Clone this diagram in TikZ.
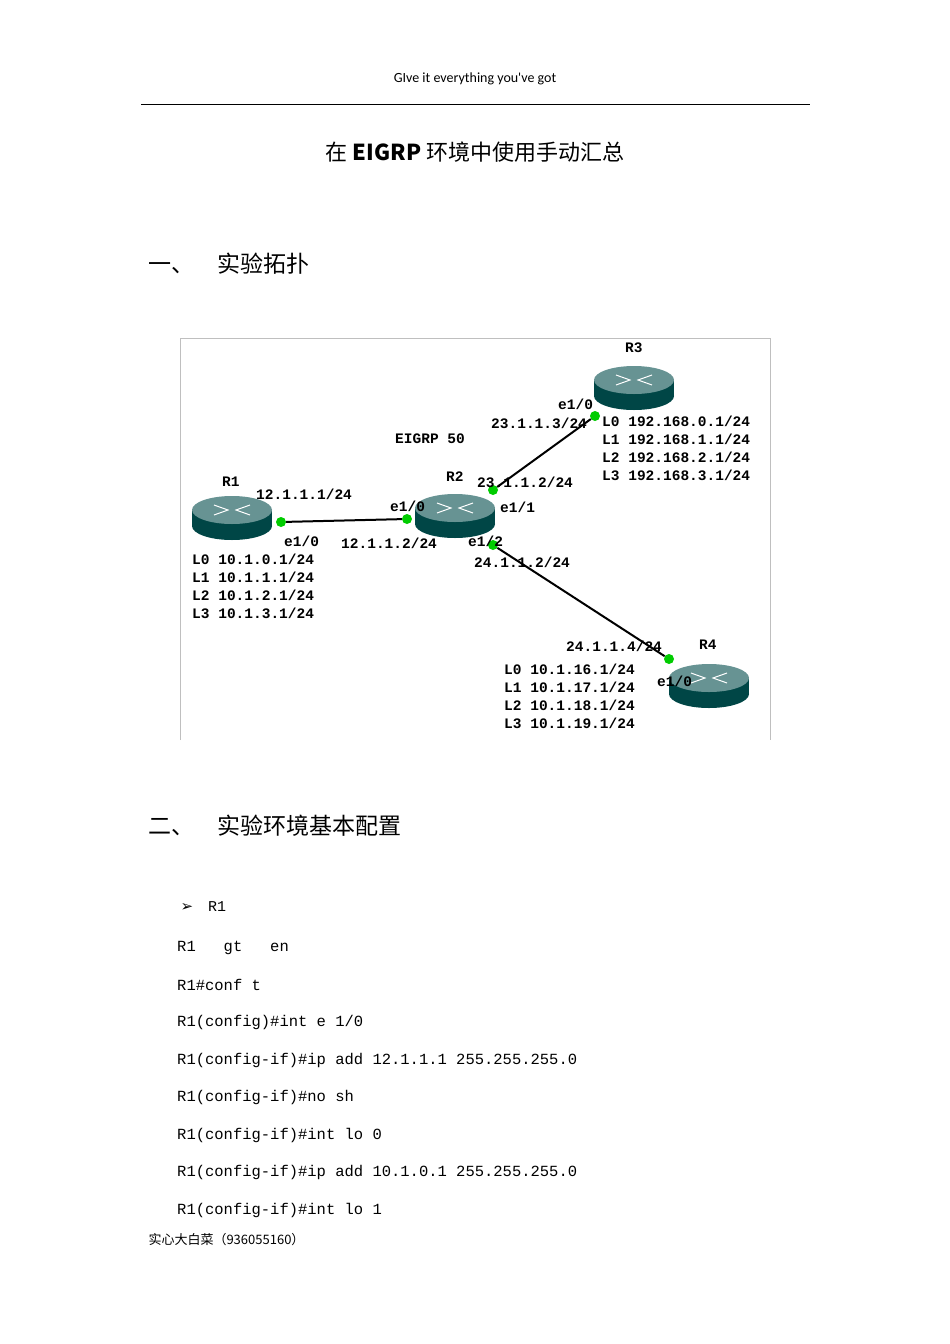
\documentclass[tikz,border=0pt]{standalone}
\usepackage{fontspec}
\setmainfont{Liberation Serif}
\newfontfamily\cjk{Noto Sans CJK SC}
\newfontfamily\mono{Liberation Mono}
\newfontfamily\hdr{Carlito}
\begin{document}
\begin{tikzpicture}[x=1pt,y=-1pt,
 lbl/.style={font=\mono\bfseries\fontsize{14.5}{18}\selectfont,inner sep=0pt,anchor=west},
 cfg/.style={font=\mono\fontsize{15.5}{16}\selectfont,inner sep=0pt,anchor=west},
 dot/.style={circle,fill=green!80!black,inner sep=0pt,minimum size=10pt},
 link/.style={line width=2pt,black}]
\useasboundingbox (0,0) rectangle (950,1344);
\node[font=\hdr\fontsize{14}{14}\selectfont] (hd) at (475,79) {GIve it everything you've got};
\draw[line width=1pt] (141,104) -- (810,104);
\node[font=\cjk\fontsize{22}{24}\selectfont] (title) at (475,152) {在 \textbf{EIGRP} 环境中使用手动汇总};
\node[font=\cjk\fontsize{23}{26}\selectfont,anchor=west] (s1) at (145,264) {一、\quad 实验拓扑};
\draw[gray!50] (180,740) -- (180,338) -- (770,338) -- (770,740);
% routers
\foreach \n/\x/\y in {r1/232/518,r2/455/516,r3/634/388,r4/709/686}{
 \coordinate (\n) at (\x,\y);
 \fill[teal!55!black] (\x,\y+8) ellipse[x radius=40,y radius=14];
 \fill[teal!55!black] (\x-40,\y-8) rectangle (\x+40,\y+8);
 \fill[teal!40!gray!85] (\x,\y-8) ellipse[x radius=40,y radius=14];
 \draw[white,line width=1pt] (\x-18,\y-13)--(\x-4,\y-8)--(\x-18,\y-3) (\x+18,\y-13)--(\x+4,\y-8)--(\x+18,\y-3);
}
\node[dot] (d1) at (281,522) {};
\node[dot] (d2) at (407,519) {};
\node[dot] (d3) at (595,416) {};
\node[dot] (d4) at (493,490) {};
\node[dot] (d5) at (493,545) {};
\node[dot] (d6) at (669,659) {};
\draw[link] (d1) -- (d2);
\draw[link] (d4) -- (d3);
\draw[link] (d5) -- (d6);
\node[lbl] (n1) at (222,482) {R1};
\node[lbl] (n2) at (446,477) {R2};
\node[lbl] (n3) at (625,348) {R3};
\node[lbl] (n4) at (699,645) {R4};
\node[lbl] (eg) at (395,439) {EIGRP 50};
\node[lbl] at (256,494) {12.1.1.1/24};
\node[lbl] at (284,541) {e1/0};
\node[lbl] at (390,506) {e1/0};
\node[lbl] at (341,543) {12.1.1.2/24};
\node[lbl] at (558,404) {e1/0};
\node[lbl] at (491,423) {23.1.1.3/24};
\node[lbl] at (477,482) {23.1.1.2/24};
\node[lbl] at (500,507) {e1/1};
\node[lbl] at (468,541) {e1/2};
\node[lbl] at (474,562) {24.1.1.2/24};
\node[lbl] at (566,646) {24.1.1.4/24};
\node[lbl] at (657,681) {e1/0};
\node[lbl,align=left,anchor=north west] at (192,554) {L0 10.1.0.1/24\\L1 10.1.1.1/24\\L2 10.1.2.1/24\\L3 10.1.3.1/24};
\node[lbl,align=left,anchor=north west] at (602,416) {L0 192.168.0.1/24\\L1 192.168.1.1/24\\L2 192.168.2.1/24\\L3 192.168.3.1/24};
\node[lbl,align=left,anchor=north west] at (504,664) {L0 10.1.16.1/24\\L1 10.1.17.1/24\\L2 10.1.18.1/24\\L3 10.1.19.1/24};
\node[font=\cjk\fontsize{23}{26}\selectfont,anchor=west] (s2) at (145,826) {二、\quad 实验环境基本配置};
\node[font=\fontsize{15}{16}\selectfont,anchor=west] (b) at (177,907) {\fontspec{DejaVu Sans}➢\quad\mono R1};
\foreach \t [count=\i] in {R1 \ \ gt \ \ en, R1\#conf t, R1(config)\#int e 1/0, R1(config-if)\#ip add 12.1.1.1 255.255.255.0, R1(config-if)\#no sh, R1(config-if)\#int lo 0, R1(config-if)\#ip add 10.1.0.1 255.255.255.0, R1(config-if)\#int lo 1}
 \node[cfg] at (177,910+37.5*\i) {\t};
\node[font=\cjk\fontsize{13}{14}\selectfont,anchor=west] (ft) at (145,1240) {实心大白菜（936055160）};
\end{tikzpicture}
\end{document}
